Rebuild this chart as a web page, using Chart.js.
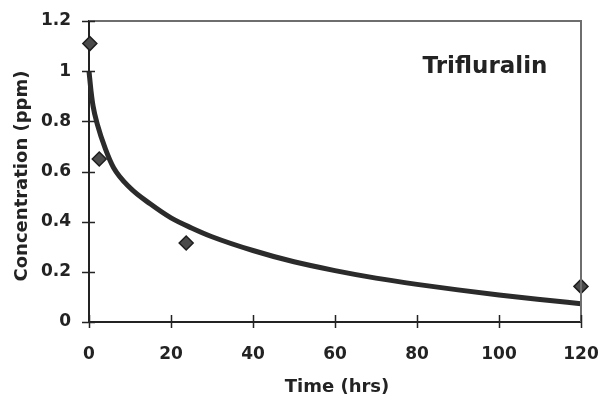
<!DOCTYPE html>
<html>
<head>
<meta charset="utf-8">
<script src="https://cdn.jsdelivr.net/npm/chart.js@4/dist/chart.umd.min.js"></script>
<style>
  html, body { margin: 0; padding: 0; background: #fff; }
  #wrap { width: 604px; height: 402px; position: relative; }
</style>
</head>
<body>
<div id="wrap"><canvas id="chart"></canvas></div>
<script>
// measured concentrations (diamonds)
const sampleHours = [0.2, 2.5, 23.7, 120];
const sampleConc = [1.11, 0.65, 0.315, 0.142];

// fitted curve
const curveHours = [0, 0.5, 1, 2, 4, 6, 10, 15, 20, 25, 30, 40, 50, 60, 70, 80, 90, 100, 110, 120];
const curveConc = [1.0, 0.92, 0.86, 0.79, 0.69, 0.615, 0.535, 0.47, 0.415, 0.375, 0.34, 0.285, 0.24, 0.205, 0.175, 0.15, 0.128, 0.108, 0.09, 0.073];

const xTickLabels = ['0', '20', '40', '60', '80', '100', '120'];
const yTickLabels = ['0', '0.2', '0.4', '0.6', '0.8', '1', '1.2'];

const FONT = '"DejaVu Sans", sans-serif';
const INK = '#232323';

// crossing tick marks, frame and text labels
const decor = {
  id: 'decor',
  afterDraw(chart) {
    const { ctx, chartArea: a, scales: { x, y } } = chart;
    ctx.save();
    // grey frame top + right
    ctx.strokeStyle = '#6e6e6e';
    ctx.lineWidth = 2;
    ctx.beginPath();
    ctx.moveTo(a.left, a.top);
    ctx.lineTo(a.right, a.top);
    ctx.lineTo(a.right, a.bottom);
    ctx.stroke();

    ctx.strokeStyle = INK;
    ctx.lineWidth = 1.5;
    ctx.beginPath();
    x.ticks.forEach(t => {
      const px = Math.round(x.getPixelForValue(t.value)) + 0.5;
      ctx.moveTo(px, a.bottom - 7);
      ctx.lineTo(px, a.bottom + 6);
    });
    y.ticks.forEach(t => {
      const py = Math.round(y.getPixelForValue(t.value)) + 0.5;
      ctx.moveTo(a.left - 7, py);
      ctx.lineTo(a.left + 6, py);
    });
    ctx.stroke();

    ctx.fillStyle = INK;
    ctx.textAlign = 'center';
    ctx.textBaseline = 'middle';
    ctx.font = 'bold 18px ' + FONT;
    ctx.fillText('Time (hrs)', (a.left + a.right) / 2 + 2, 387);

    ctx.save();
    ctx.translate(22, 176);
    ctx.rotate(-Math.PI / 2);
    ctx.font = 'bold 18px ' + FONT;
    ctx.fillText('Concentration (ppm)', 0, 0);
    ctx.restore();

    ctx.font = 'bold 23px ' + FONT;
    ctx.fillText('Trifluralin', 485, 67);
    ctx.restore();
  }
};

new Chart(document.getElementById('chart'), {
  type: 'scatter',
  data: {
    datasets: [
      {
        type: 'line',
        data: curveHours.map((h, i) => ({ x: h, y: curveConc[i] })),
        borderColor: '#2b2b2b',
        borderWidth: 5,
        pointRadius: 0,
        cubicInterpolationMode: 'monotone',
        fill: false,
        order: 2
      },
      {
        data: sampleHours.map((h, i) => ({ x: h, y: sampleConc[i] })),
        pointStyle: 'rectRot',
        pointRadius: 7,
        backgroundColor: '#4a4a4a',
        borderColor: '#1e1e1e',
        borderWidth: 1.5,
        order: 1
      }
    ]
  },
  options: {
    responsive: true,
    maintainAspectRatio: false,
    animation: false,
    clip: false,
    layout: { padding: { top: 21, right: 23, left: 0, bottom: 0 } },
    plugins: { legend: { display: false }, tooltip: { enabled: false } },
    scales: {
      x: {
        type: 'linear',
        min: 0, max: 120,
        grid: { display: false, drawTicks: false },
        border: { display: true, color: INK, width: 2 },
        ticks: {
          stepSize: 20,
          padding: 22,
          color: INK,
          font: { family: FONT, size: 17, weight: 'bold' },
          callback: (v, i) => xTickLabels[i]
        },
        afterFit: s => { s.height = 80; s.paddingLeft = 0; s.paddingRight = 0; }
      },
      y: {
        type: 'linear',
        min: 0, max: 1.2,
        grid: { display: false, drawTicks: false },
        border: { display: true, color: INK, width: 2 },
        ticks: {
          stepSize: 0.2,
          padding: 18,
          color: INK,
          font: { family: FONT, size: 17, weight: 'bold' },
          callback: (v, i) => yTickLabels[i]
        },
        afterFit: s => { s.width = 89; s.paddingTop = 0; s.paddingBottom = 0; }
      }
    }
  },
  plugins: [decor]
});
</script>
</body>
</html>
